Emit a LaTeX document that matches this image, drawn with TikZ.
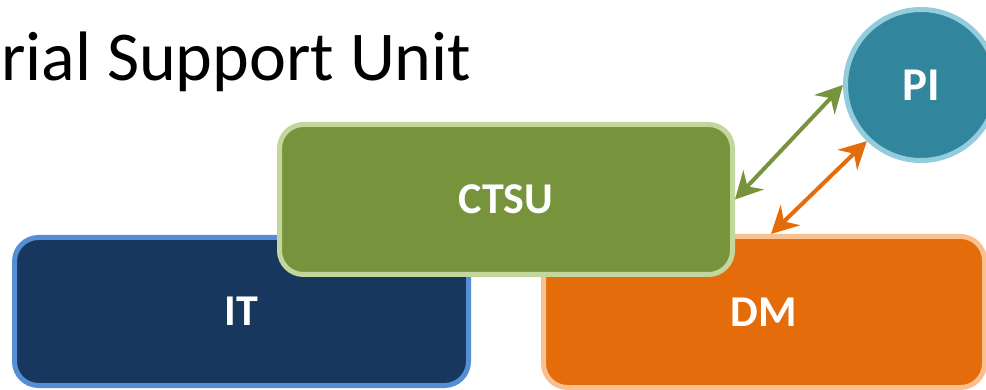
\documentclass[tikz,border=0pt]{standalone}
\usepackage{fontspec}
\setmainfont{Carlito}
\usetikzlibrary{arrows.meta}

\definecolor{itfill}{HTML}{17375E}
\definecolor{itline}{HTML}{558ED5}
\definecolor{ctfill}{HTML}{77933C}
\definecolor{ctline}{HTML}{C3D69B}
\definecolor{dmfill}{HTML}{E46C0A}
\definecolor{dmline}{HTML}{FAC090}
\definecolor{pifill}{HTML}{31859C}
\definecolor{piline}{HTML}{93CDDD}

\tikzset{
  unitbox/.style={rectangle, rounded corners=24pt, line width=5pt,
    text=white, font=\fontsize{44}{44}\selectfont\bfseries, inner sep=0pt},
  tip/.style={Stealth[length=27pt,width=28pt,inset=9pt]},
  link/.style={line width=4pt, {Stealth[length=27pt,width=28pt,inset=9pt]}-{Stealth[length=27pt,width=28pt,inset=9pt]}},
}

\begin{document}
\begin{tikzpicture}[x=1pt, y=-1pt]
  \useasboundingbox (0,0) rectangle (986,390);
  \clip (0,0) rectangle (986,390);

  % heading
  \node[anchor=base west, inner sep=0pt, font=\fontsize{70}{70}\selectfont] (title) at (1,81) {rial Support Unit};

  % lower row
  \node[unitbox, fill=itfill, draw=itline, minimum width=454pt, minimum height=148pt] (it) at (241.5,311.5) {IT};
  \node[unitbox, fill=dmfill, draw=dmline, minimum width=441pt, minimum height=151pt] (dm) at (764,312) {DM};

  % middle box on top of both
  \node[unitbox, fill=ctfill, draw=ctline, minimum width=453pt, minimum height=150pt] (ctsu) at (506,199.5) {CTSU};

  % circle
  \node[circle, fill=pifill, draw=piline, line width=5pt, minimum size=151pt, inner sep=0pt,
        text=white, font=\fontsize{47}{47}\selectfont\bfseries] (pi) at (921,85) {PI};

  % two-way links
  \draw[link, draw=ctfill] (ctsu.east) -- (pi.west);
  \draw[link, draw=dmfill] ([xshift=7pt]dm.north) -- (pi.226);
\end{tikzpicture}
\end{document}
